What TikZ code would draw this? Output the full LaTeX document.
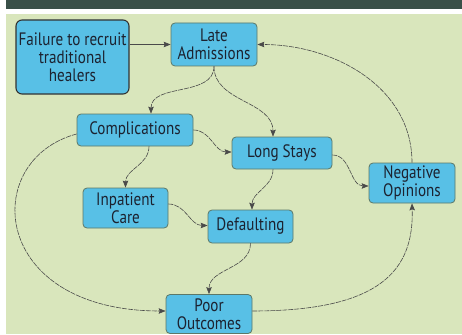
\documentclass[tikz,border=0pt]{standalone}
\usepackage{fontspec}
\setmainfont[FakeStretch=0.84]{PT Sans}
\usetikzlibrary{arrows.meta}
\definecolor{panelbg}{HTML}{D9E6BC}
\definecolor{bandbg}{HTML}{3A5048}
\definecolor{boxfill}{HTML}{58C0E6}
\definecolor{boxline}{HTML}{5C7868}
\definecolor{linkcol}{HTML}{4A4A4A}
\definecolor{labelcol}{HTML}{1C2230}
\begin{document}
\begin{tikzpicture}[x=1pt,y=1pt,
  factor/.style={draw=boxline, line width=0.8pt, fill=boxfill, rounded corners=4pt,
    inner sep=0pt, align=center, font=\fontsize{18}{18}\selectfont, text=labelcol},
  rootfactor/.style={factor, draw=black!80, line width=1.1pt, rounded corners=6pt},
  link/.style={draw=linkcol, line width=0.6pt, dash pattern=on 5pt off 1pt,
    -{Stealth[length=7pt,width=5.5pt,inset=1.2pt]}},
  plainlink/.style={link, solid}]
\useasboundingbox (0,0) rectangle (462,-334);
\fill[white] (0,0) rectangle (462,-334);
\fill[bandbg] (6,0) rectangle (462,-9);
\fill[panelbg] (6,-14) rectangle (462,-334);

% factors
\node[rootfactor, minimum width=113pt, minimum height=74pt] (fail) at (72.5,-57)
  {Failure to recruit\\traditional\\healers};
\node[factor, minimum width=86pt, minimum height=43pt] (late) at (214,-44.5) {Late\\Admissions};
\node[factor, minimum width=116pt, minimum height=32pt] (comp) at (135,-130) {Complications};
\node[factor, minimum width=100pt, minimum height=32pt] (long) at (282,-153) {Long Stays};
\node[factor, minimum width=86pt, minimum height=40pt] (neg) at (412,-183) {Negative\\Opinions};
\node[factor, minimum width=85pt, minimum height=40pt] (inp) at (125.5,-208) {Inpatient\\Care};
\node[factor, minimum width=85pt, minimum height=33pt] (def) at (250.5,-226.5) {Defaulting};
\node[factor, minimum width=86pt, minimum height=39pt] (poor) at (209,-314) {Poor\\Outcomes};

% links
\draw[plainlink] (late.west -| fail.east) -- (late.west);
\draw[link] (late.south) to[out=-90,in=90] ([xshift=16pt]comp.north);
\draw[link] (late.south) to[out=-90,in=90] ([xshift=-9pt]long.north);
\draw[link] (neg.north) to[out=90,in=0] (late.east);
\draw[link] (comp.east) to[out=0,in=180] ([yshift=1pt]long.west);
\draw[link] ([xshift=14pt]comp.south) to[out=-90,in=90] (inp.north);
\draw[link] ([yshift=-4pt]comp.west) .. controls +(-97,-26) and +(-176,0) .. ([yshift=3pt]poor.west);
\draw[link] ([yshift=-2pt]long.east) to[out=0,in=180] ([yshift=-3pt]neg.west);
\draw[link] ([xshift=-9pt]long.south) to[out=-90,in=90] ([xshift=1.5pt]def.north);
\draw[link] ([yshift=4pt]inp.east) to[out=0,in=180] ([yshift=1pt]def.west);
\draw[link] (def.south) to[out=-90,in=90] (poor.north);
\draw[link] ([yshift=3pt]poor.east) .. controls +(128,0) and +(2,-67) .. (neg.south);
\end{tikzpicture}
\end{document}
